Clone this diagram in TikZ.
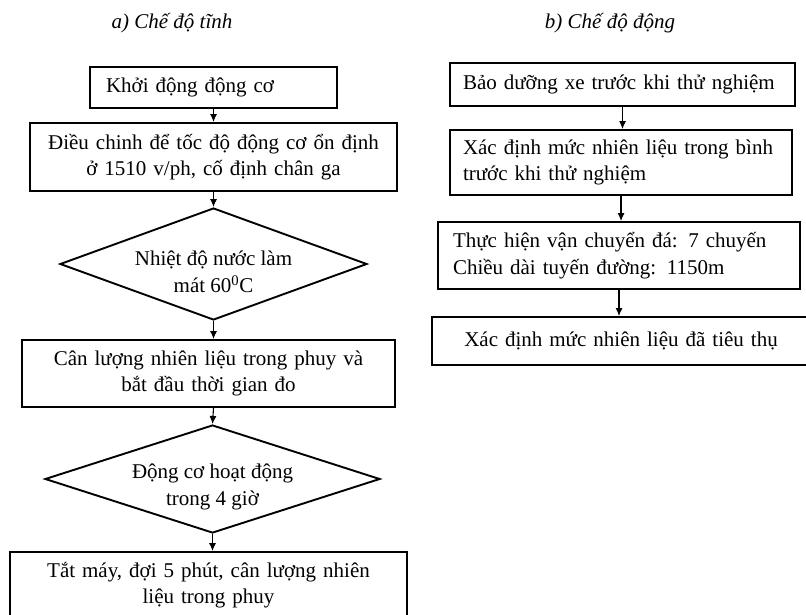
\documentclass[tikz,border=0pt]{standalone}
\usepackage{fontspec}
\setmainfont{Liberation Serif}
\usepackage{tikz}
\usetikzlibrary{calc}
\usetikzlibrary{arrows.meta}
\usetikzlibrary{shapes.geometric}

\begin{document}
\begin{tikzpicture}[x=1pt,y=-1pt,
  hop/.style={draw, line width=1.9pt, rectangle, inner xsep=8pt, inner ysep=0pt, font=\fontsize{21}{26.5}\selectfont},
  thoi/.style={draw, line width=1.9pt, diamond, inner sep=0pt},
  thoichu/.style={align=center, yshift=-8pt, font=\fontsize{21}{27}\selectfont},
  muiten/.style={-{Latex[length=8pt,width=7pt]}, line width=1.1pt},
  tieude/.style={font=\fontsize{21}{24}\selectfont\itshape}]
\clip (0,0) rectangle (806,614);

% a) che do tinh
\node[tieude] (t_a) at (172,23) {a) Chế độ tĩnh};
\node[hop, inner xsep=16pt, text width=215pt, minimum height=41pt, align=left] (a_1) at (213.5,87.5) {Khởi động động cơ};
\node[hop, text width=351pt, minimum height=68pt, align=center] (a_2) at (213.5,157) {Điều chinh để tốc độ động cơ ổn định\\ở 1510 v/ph, cố định chân ga};
\node[thoi, minimum width=307pt, minimum height=112pt,
  label={[thoichu]center:Nhiệt độ nước làm\\mát 60\textsuperscript{0}C}] (a_d1) at (213.5,264) {};
\node[hop, text width=357pt, minimum height=67pt, align=center] (a_3) at (208.5,373.5) {Cân lượng nhiên liệu trong phuy và\\bắt đầu thời gian đo};
\node[thoi, minimum width=335pt, minimum height=108pt,
  label={[thoichu]center:Động cơ hoạt động\\trong 4 giờ}] (a_d2) at (212.5,479) {};
\node[hop, text width=381pt, minimum height=66pt, align=center] (a_4) at (208.5,585) {Tắt máy, đợi 5 phút, cân lượng nhiên\\liệu trong phuy};

\draw [muiten] (a_1.south) -- (a_1.south |- a_2.north);
\draw [muiten] (a_2.south) -- (a_2.south |- a_d1.north);
\draw [muiten] (a_d1.south) -- (a_d1.south |- a_3.north);
\draw [muiten] (a_3.south -| a_d1.south) -- (a_d2.north);
\draw [muiten] (a_d2.south) -- (a_d2.south |- a_4.north);

% b) che do dong
\node[tieude] (t_b) at (610,23) {b) Chế độ động};
\node[hop, inner xsep=13pt, text width=319pt, minimum height=43pt, align=left] (b_1) at (622.5,84.5) {Bảo dưỡng xe trước khi thử nghiệm};
\node[hop, inner xsep=13pt, text width=316pt, minimum height=65pt, align=left] (b_2) at (621,162.5) {Xác định mức nhiên liệu trong bình\\trước khi thử nghiệm};
\node[hop, inner xsep=15pt, text width=332pt, minimum height=67pt, align=left] (b_3) at (619,255.5) {Thực hiện vận chuyển đá: 7 chuyến\\Chiều dài tuyến đường: 1150m};
\node[hop, text width=362pt, minimum height=48pt, align=center] (b_4) at (621,341) {Xác định mức nhiên liệu đã tiêu thụ};

\draw [muiten] (b_1.south) -- (b_1.south |- b_2.north);
\draw [muiten] (b_2.south) -- (b_2.south |- b_3.north);
\draw [muiten] (b_3.south) -- (b_3.south |- b_4.north);

\end{tikzpicture}
\end{document}
